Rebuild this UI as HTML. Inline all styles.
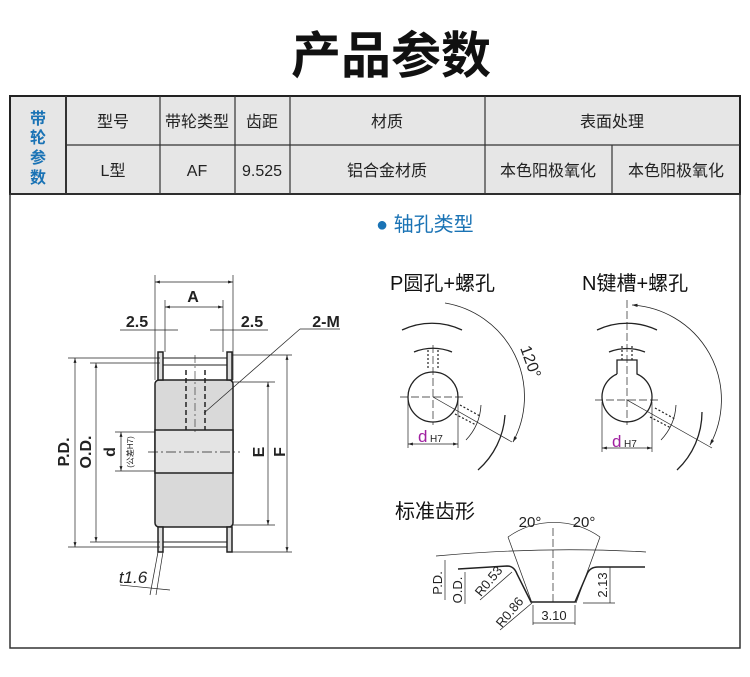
<!DOCTYPE html>
<html><head><meta charset="utf-8"><style>
html,body{margin:0;padding:0;background:#fff}
svg{display:block}
text{font-family:"Liberation Sans","Noto Sans CJK SC",sans-serif}
</style></head><body>
<svg width="750" height="677" viewBox="0 0 750 677" xmlns="http://www.w3.org/2000/svg">
<defs><marker id="ar" viewBox="0 0 10 10" refX="10" refY="5" markerWidth="7" markerHeight="7" orient="auto-start-reverse"><path d="M0 2 L10 5 L0 8 Z" fill="#222"/></marker></defs>
<rect width="750" height="677" fill="#fff"/>
<text x="391" y="73" font-size="50" font-weight="bold" text-anchor="middle" fill="#111">产品参数</text>

<rect x="10" y="96" width="730" height="98" fill="#e6e6e6" stroke="#222" stroke-width="2"/>
<g stroke="#333" stroke-width="1.2">
<line x1="66" y1="96" x2="66" y2="194" stroke-width="2"/>
<line x1="160" y1="96" x2="160" y2="194"/>
<line x1="235" y1="96" x2="235" y2="194"/>
<line x1="290" y1="96" x2="290" y2="194"/>
<line x1="485" y1="96" x2="485" y2="194"/>
<line x1="612" y1="145" x2="612" y2="194"/>
<line x1="66" y1="145" x2="740" y2="145"/>
</g>
<g font-size="16" font-weight="bold" fill="#1a73b5" text-anchor="middle">
<text x="38" y="124">带</text><text x="38" y="143">轮</text><text x="38" y="163">参</text><text x="38" y="183">数</text>
</g>
<g font-size="16" fill="#222" text-anchor="middle">
<text x="113" y="127">型号</text><text x="197" y="127">带轮类型</text><text x="262" y="127">齿距</text>
<text x="387" y="127">材质</text><text x="612" y="127">表面处理</text>
<text x="113" y="176">L型</text><text x="197" y="176">AF</text><text x="262" y="176">9.525</text>
<text x="387" y="176">铝合金材质</text><text x="548" y="176">本色阳极氧化</text><text x="676" y="176">本色阳极氧化</text>
</g>
<rect x="10" y="194" width="730" height="454" fill="none" stroke="#333" stroke-width="1.5"/>

<g stroke="#222" fill="none" stroke-width="1">
<rect x="155" y="380" width="78" height="147" rx="4" fill="#d9d9d9" stroke-width="1.5"/>
<rect x="155" y="430" width="78" height="43" fill="#e4e4e4" stroke-width="1.5"/>
<rect x="158" y="352" width="5" height="28" fill="#ddd" stroke-width="1.5"/>
<rect x="227" y="352" width="5" height="28" fill="#ddd" stroke-width="1.5"/>
<rect x="158" y="527" width="5" height="25" fill="#ddd" stroke-width="1.5"/>
<rect x="227" y="527" width="5" height="25" fill="#ddd" stroke-width="1.5"/>
<line x1="163" y1="358" x2="227" y2="358"/><line x1="163" y1="365" x2="227" y2="365"/>
<line x1="163" y1="542" x2="227" y2="542"/><line x1="163" y1="547" x2="227" y2="547"/>
<g stroke-dasharray="5,3" stroke-width="1.5"><line x1="186" y1="370" x2="186" y2="430"/><line x1="205" y1="370" x2="205" y2="430"/></g>
<line x1="195" y1="355" x2="195" y2="435" stroke-dasharray="8,3,2,3" stroke-width="0.6"/>
<line x1="148" y1="452" x2="240" y2="452" stroke-dasharray="10,3,2,3" stroke-width="0.7"/>
<g stroke-width="0.7">
<line x1="155" y1="275" x2="155" y2="380"/><line x1="233" y1="275" x2="233" y2="380"/>
<line x1="165" y1="300" x2="165" y2="352"/><line x1="223" y1="300" x2="223" y2="352"/>
<line x1="155" y1="282" x2="233" y2="282" marker-start="url(#ar)" marker-end="url(#ar)"/>
<line x1="165" y1="307" x2="223" y2="307" marker-start="url(#ar)" marker-end="url(#ar)"/>
<line x1="120" y1="330" x2="178" y2="330"/><line x1="210" y1="330" x2="268" y2="330"/>
<line x1="68" y1="358" x2="160" y2="358"/><line x1="68" y1="547" x2="160" y2="547"/>
<line x1="90" y1="363" x2="160" y2="363"/><line x1="90" y1="542" x2="160" y2="542"/>
<line x1="75" y1="358" x2="75" y2="547" marker-start="url(#ar)" marker-end="url(#ar)"/>
<line x1="96" y1="363" x2="96" y2="542" marker-start="url(#ar)" marker-end="url(#ar)"/>
<line x1="115" y1="432" x2="155" y2="432"/><line x1="115" y1="471" x2="155" y2="471"/>
<line x1="121" y1="432" x2="121" y2="471" marker-start="url(#ar)" marker-end="url(#ar)"/>
<line x1="233" y1="382" x2="275" y2="382"/><line x1="233" y1="525" x2="275" y2="525"/>
<line x1="268" y1="382" x2="268" y2="525" marker-start="url(#ar)" marker-end="url(#ar)"/>
<line x1="232" y1="355" x2="292" y2="355"/><line x1="232" y1="552" x2="292" y2="552"/>
<line x1="287" y1="355" x2="287" y2="552" marker-start="url(#ar)" marker-end="url(#ar)"/>
<line x1="300" y1="329" x2="340" y2="329"/><line x1="300" y1="329" x2="204" y2="413"/>
<line x1="158" y1="552" x2="150" y2="595"/><line x1="163" y1="552" x2="156" y2="595"/>
<line x1="120" y1="585" x2="170" y2="590"/>
</g>
</g>
<g font-size="16" font-weight="bold" fill="#222" text-anchor="middle">
<text x="193" y="302">A</text><text x="137" y="327">2.5</text><text x="252" y="327">2.5</text><text x="326" y="327">2-M</text>
<text transform="translate(69,452) rotate(-90)">P.D.</text>
<text transform="translate(91,452) rotate(-90)">O.D.</text>
<text transform="translate(115,452) rotate(-90)">d</text>
<text transform="translate(264,452) rotate(-90)">E</text>
<text transform="translate(285,452) rotate(-90)">F</text>
</g>
<text transform="translate(133,452) rotate(-90)" font-size="8" text-anchor="middle" fill="#222">(公差H7)</text>
<text x="133" y="583" font-size="17" font-style="italic" fill="#222" text-anchor="middle">t1.6</text>

<text x="376" y="231" font-size="20" fill="#1a73b5">● 轴孔类型</text>
<text x="390" y="290" font-size="20" fill="#111">P圆孔+螺孔</text>
<text x="582" y="290" font-size="20" fill="#111">N键槽+螺孔</text>
<g stroke="#222" fill="none" stroke-width="1.3">
<circle cx="433" cy="397" r="25"/>
<path d="M402 330 A70 70 0 0 1 462 330"/><path d="M414 352 A50 50 0 0 1 452 352"/>
<path d="M445 303 A95 95 0 0 1 513 442" stroke-width="0.8" marker-end="url(#ar)"/>
<path d="M505 415 A80 80 0 0 1 478 470"/><path d="M481 405 A55 55 0 0 1 466 440" stroke-width="0.8"/>
<path d="M617 374 V360 H637 V374 A25 25 0 1 1 617 374"/>
<path d="M597 330 A70 70 0 0 1 657 330"/><path d="M609 352 A50 50 0 0 1 645 352"/>
<path d="M632 305 A95 95 0 0 1 710 445" stroke-width="0.8" marker-start="url(#ar)" marker-end="url(#ar)"/>
<path d="M702 412 A80 80 0 0 1 677 470"/><path d="M676 405 A55 55 0 0 1 661 440" stroke-width="0.8"/>
</g>
<g stroke="#222" stroke-width="0.7" fill="none">
<line x1="433" y1="345" x2="433" y2="425" stroke-dasharray="8,3"/><line x1="400" y1="397" x2="466" y2="397" stroke-dasharray="8,3"/>
<line x1="433" y1="397" x2="512" y2="442"/>
<line x1="408" y1="400" x2="408" y2="448"/><line x1="458" y1="400" x2="458" y2="448"/>
<line x1="408" y1="444" x2="458" y2="444" marker-start="url(#ar)" marker-end="url(#ar)"/>
<line x1="627" y1="300" x2="627" y2="425" stroke-dasharray="8,3"/><line x1="595" y1="400" x2="660" y2="400" stroke-dasharray="8,3"/>
<line x1="627" y1="400" x2="712" y2="448"/>
<line x1="602" y1="402" x2="602" y2="452"/><line x1="652" y1="402" x2="652" y2="452"/>
<line x1="602" y1="448" x2="652" y2="448" marker-start="url(#ar)" marker-end="url(#ar)"/>
<g stroke-dasharray="2,2" stroke-width="1.2"><line x1="428" y1="350" x2="428" y2="370"/><line x1="438" y1="350" x2="438" y2="370"/>
<line x1="622" y1="346" x2="622" y2="360"/><line x1="632" y1="346" x2="632" y2="360"/>
<line x1="460" y1="405" x2="480" y2="416"/><line x1="455" y1="414" x2="476" y2="425"/>
<line x1="655" y1="408" x2="675" y2="419"/><line x1="650" y1="417" x2="671" y2="428"/></g>
</g>
<text transform="translate(520,348) rotate(70)" font-size="16" fill="#222">120°</text>
<text x="418" y="442" font-size="17" fill="#a020a0">d</text><text x="430" y="442" font-size="10" fill="#222">H7</text>
<text x="612" y="447" font-size="17" fill="#a020a0">d</text><text x="624" y="447" font-size="10" fill="#222">H7</text>

<text x="395" y="518" font-size="20" fill="#111">标准齿形</text>
<text x="530" y="527" font-size="15" fill="#222" text-anchor="middle">20°</text>
<text x="584" y="527" font-size="15" fill="#222" text-anchor="middle">20°</text>
<g stroke="#222" fill="none" stroke-width="0.7">
<path d="M436 556 Q545 546 646 552"/>
<path d="M508 537 A80 80 0 0 1 600 537"/>
<line x1="553" y1="528" x2="553" y2="605" stroke-dasharray="8,3"/>
<line x1="508" y1="537" x2="532" y2="603"/><line x1="600" y1="537" x2="576" y2="603"/>
<path d="M458 569 L507 566 Q514 566 517 574 L531 602 L575 602 L587 574 Q590 567 598 567 L645 567" stroke-width="1.5"/>
<line x1="445" y1="560" x2="445" y2="600"/><line x1="465" y1="572" x2="465" y2="604"/>
<line x1="583" y1="603" x2="615" y2="603"/><line x1="610" y1="567" x2="610" y2="603"/>
<line x1="533" y1="605" x2="533" y2="625"/><line x1="575" y1="605" x2="575" y2="625"/><line x1="533" y1="623" x2="575" y2="623"/>
<line x1="480" y1="600" x2="512" y2="572"/><line x1="500" y1="630" x2="532" y2="603"/>
</g>
<g font-size="13" fill="#222" text-anchor="middle">
<text transform="translate(442,583) rotate(-90)">P.D.</text>
<text transform="translate(462,590) rotate(-90)">O.D.</text>
<text transform="translate(492,584) rotate(-50)">R0.53</text>
<text transform="translate(513,615) rotate(-50)">R0.86</text>
<text transform="translate(607,585) rotate(-90)">2.13</text>
<text x="554" y="620">3.10</text>
</g>
</svg>
</body></html>
